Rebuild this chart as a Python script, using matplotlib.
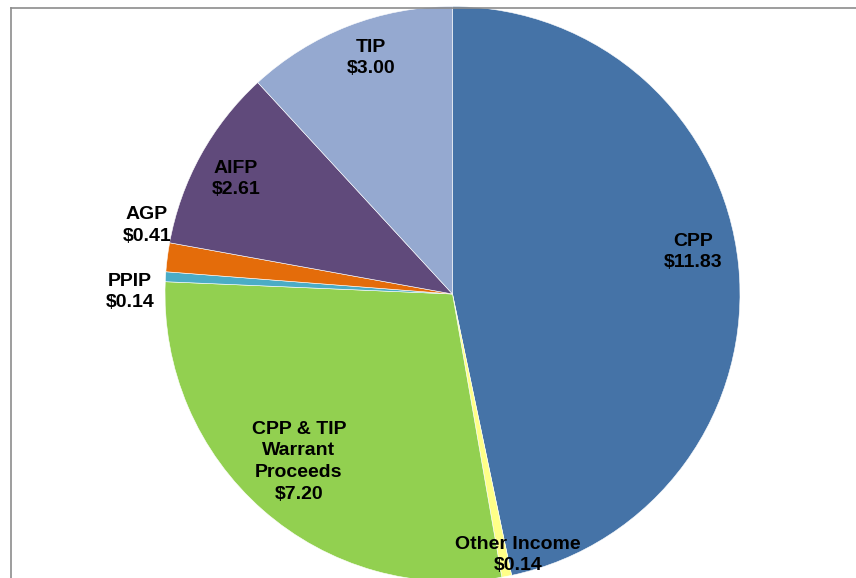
import matplotlib
matplotlib.use('Agg')
import matplotlib.pyplot as plt
from matplotlib.lines import Line2D

# datos del grafico (miles de millones)
categorias = ['CPP', 'Other Income', 'CPP & TIP\nWarrant\nProceeds', 'PPIP', 'AGP', 'AIFP', 'TIP']
valores = [11.83, 0.14, 7.20, 0.14, 0.41, 2.61, 3.00]
colores = ['#4573A7', '#FFFF88', '#92D050', '#4BACC6', '#E46C0A', '#604A7B', '#95A9D0']

# posicion de cada etiqueta en unidades del radio
pos_etiquetas = [(0.837, 0.146), (0.228, -0.908), (-0.534, -0.584),
                 (-1.122, 0.007), (-1.063, 0.237), (-0.753, 0.400), (-0.283, 0.821)]

W, H = 856, 578
cx, cy, r = 452.5, 294, 287.5

fig = plt.figure(figsize=(W / 100, H / 100), dpi=100)
ax = fig.add_axes([0, 0, 1, 1])
ax.pie(valores, colors=colores, startangle=90, counterclock=False,
       wedgeprops={'edgecolor': 'white', 'linewidth': 0.4})
ax.set_xlim(-cx / r, (W - cx) / r)
ax.set_ylim(-(H - cy) / r, cy / r)
ax.set_aspect('equal')
ax.axis('off')

for cat, val, (x, y) in zip(categorias, valores, pos_etiquetas):
    ax.text(x, y, f'{cat}\n${val:.2f}', ha='center', va='center',
            fontsize=14, fontweight='bold', family='Liberation Sans',
            linespacing=1.37, color='black')

# borde gris del area del grafico
fig.add_artist(Line2D([11 / W, 11 / W], [0, 1 - 8 / H], color='#8c8c8c', lw=1.2))
fig.add_artist(Line2D([11 / W, 1], [1 - 8 / H, 1 - 8 / H], color='#8c8c8c', lw=1.2))

fig.savefig('out.png', dpi=100)
